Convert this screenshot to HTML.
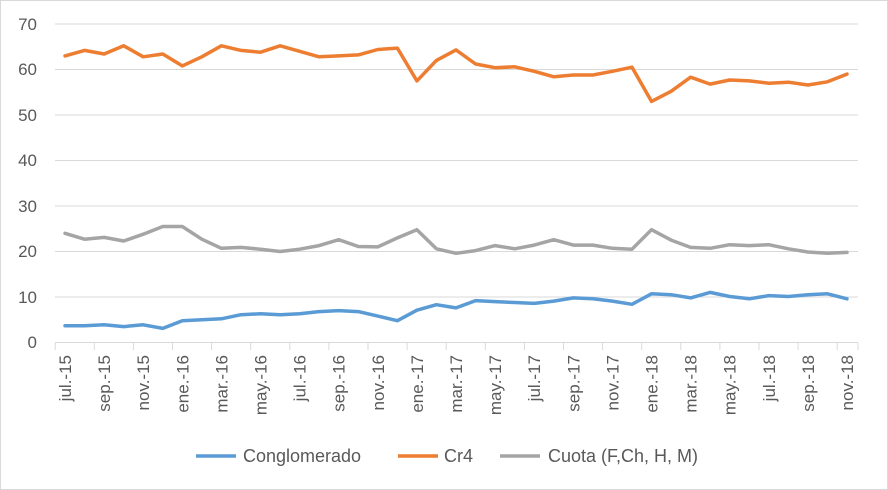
<!DOCTYPE html>
<html><head><meta charset="utf-8"><style>
html,body{margin:0;padding:0;background:#fff}
svg{display:block;font-family:"Liberation Sans",sans-serif}
</style></head><body>
<svg id="c" width="888" height="490" viewBox="0 0 888 490">
<rect x="0.5" y="0.5" width="887" height="489" fill="#fff" stroke="#d9d9d9"/>
<g stroke="#d9d9d9" stroke-width="1">
<line x1="55" x2="858" y1="297" y2="297"/>
<line x1="55" x2="858" y1="251.5" y2="251.5"/>
<line x1="55" x2="858" y1="206" y2="206"/>
<line x1="55" x2="858" y1="160.5" y2="160.5"/>
<line x1="55" x2="858" y1="115" y2="115"/>
<line x1="55" x2="858" y1="69.5" y2="69.5"/>
<line x1="55" x2="858" y1="24" y2="24"/>
<line x1="55" x2="858" y1="342.5" y2="342.5"/>
</g>
<g id="ticks" stroke="#d9d9d9" stroke-width="1"></g>
<g fill="#595959" font-size="17" text-anchor="end">
<text x="37" y="348">0</text>
<text x="37" y="303">10</text>
<text x="37" y="257">20</text>
<text x="37" y="212">30</text>
<text x="37" y="166">40</text>
<text x="37" y="121">50</text>
<text x="37" y="75">60</text>
<text x="37" y="30">70</text>
</g>
<g fill="#595959" font-size="17" text-anchor="end">
<text transform="translate(71,355) rotate(-90)">jul.-15</text>
<text transform="translate(110.1,355) rotate(-90)">sep.-15</text>
<text transform="translate(149.2,355) rotate(-90)">nov.-15</text>
<text transform="translate(188.3,355) rotate(-90)">ene.-16</text>
<text transform="translate(227.4,355) rotate(-90)">mar.-16</text>
<text transform="translate(266.5,355) rotate(-90)">may.-16</text>
<text transform="translate(305.6,355) rotate(-90)">jul.-16</text>
<text transform="translate(344.7,355) rotate(-90)">sep.-16</text>
<text transform="translate(383.8,355) rotate(-90)">nov.-16</text>
<text transform="translate(422.9,355) rotate(-90)">ene.-17</text>
<text transform="translate(462,355) rotate(-90)">mar.-17</text>
<text transform="translate(501.1,355) rotate(-90)">may.-17</text>
<text transform="translate(540.2,355) rotate(-90)">jul.-17</text>
<text transform="translate(579.3,355) rotate(-90)">sep.-17</text>
<text transform="translate(618.4,355) rotate(-90)">nov.-17</text>
<text transform="translate(657.5,355) rotate(-90)">ene.-18</text>
<text transform="translate(696.6,355) rotate(-90)">mar.-18</text>
<text transform="translate(735.7,355) rotate(-90)">may.-18</text>
<text transform="translate(774.8,355) rotate(-90)">jul.-18</text>
<text transform="translate(813.9,355) rotate(-90)">sep.-18</text>
<text transform="translate(853,355) rotate(-90)">nov.-18</text>
</g>
<polyline id="p2" fill="none" stroke="#a5a5a5" stroke-width="3.5" stroke-linejoin="round" stroke-linecap="round"/>
<polyline id="p1" fill="none" stroke="#ed7d31" stroke-width="3.5" stroke-linejoin="round" stroke-linecap="round"/>
<polyline id="p0" fill="none" stroke="#5b9bd5" stroke-width="3.5" stroke-linejoin="round" stroke-linecap="round"/>
<g font-size="18" fill="#595959">
<line x1="196" x2="236" y1="456" y2="456" stroke="#5b9bd5" stroke-width="3.5"/>
<text x="243" y="462">Conglomerado</text>
<line x1="398" x2="438" y1="456" y2="456" stroke="#ed7d31" stroke-width="3.5"/>
<text x="444" y="462">Cr4</text>
<line x1="500" x2="540" y1="456" y2="456" stroke="#a5a5a5" stroke-width="3.5"/>
<text x="548" y="462">Cuota (F,Ch, H, M)</text>
</g>
</svg>
<script>
var d=[
[3.7,3.7,3.9,3.5,3.9,3.1,4.8,5.0,5.2,6.1,6.3,6.1,6.3,6.8,7.0,6.8,5.8,4.8,7.1,8.3,7.6,9.2,9.0,8.8,8.6,9.1,9.8,9.6,9.1,8.4,10.7,10.5,9.8,11.0,10.1,9.6,10.3,10.1,10.5,10.7,9.6],
[63,64.2,63.4,65.2,62.8,63.4,60.8,62.8,65.2,64.2,63.8,65.2,64,62.8,63,63.2,64.4,64.7,57.5,62,64.3,61.2,60.4,60.6,59.6,58.4,58.8,58.8,59.6,60.5,53,55.2,58.3,56.8,57.7,57.5,57,57.2,56.6,57.3,59],
[24,22.7,23.1,22.3,23.8,25.5,25.5,22.7,20.7,20.9,20.5,20.0,20.5,21.3,22.6,21.1,21.0,23,24.8,20.6,19.6,20.2,21.3,20.6,21.4,22.6,21.4,21.4,20.7,20.5,24.8,22.5,20.9,20.7,21.5,21.3,21.5,20.6,19.9,19.6,19.8]];
var x0=65,st=19.55;
for(var s=0;s<3;s++){var p=[];for(var i=0;i<d[s].length;i++){p.push((x0+i*st).toFixed(1)+","+(342.5-d[s][i]*4.55).toFixed(1));}
document.getElementById("p"+s).setAttribute("points",p.join(" "));}
var t="";for(var k=0;k<=20;k++){var x=(x0-st/2+2*k*st).toFixed(1);t+='<line x1="'+x+'" x2="'+x+'" y1="342.5" y2="350"/>';}
t+='<line x1="858" x2="858" y1="342.5" y2="350"/>';
document.getElementById("ticks").innerHTML=t;
</script>
</body></html>
